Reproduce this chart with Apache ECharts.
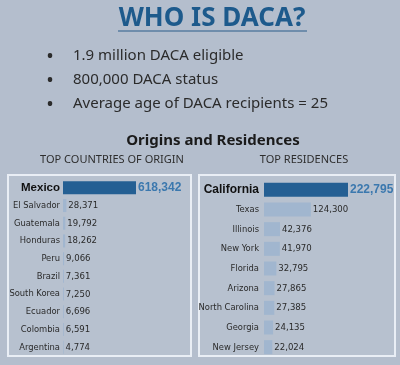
<!DOCTYPE html>
<html><head><meta charset="utf-8">
<script src="https://cdn.jsdelivr.net/npm/echarts@6/dist/echarts.min.js"></script>
<style>html,body{margin:0;padding:0;background:#b4becd;}#c{width:400px;height:365px;}</style>
</head><body><div id="c"></div>
<script>
const title = "WHO IS DACA?";
const bullets = ["1.9 million DACA eligible", "800,000 DACA status", "Average age of DACA recipients = 25"];
const subtitle = "Origins and Residences";
const leftTitle = "TOP COUNTRIES OF ORIGIN";
const rightTitle = "TOP RESIDENCES";
const countries = ["Mexico","El Salvador","Guatemala","Honduras","Peru","Brazil","South Korea","Ecuador","Colombia","Argentina"];
const countryValues = [618342,28371,19792,18262,9066,7361,7250,6696,6591,4774];
const states = ["California","Texas","Illinois","New York","Florida","Arizona","North Carolina","Georgia","New Jersey"];
const stateValues = [222795,124300,42376,41970,32795,27865,27385,24135,22024];

const DARK = '#245f93', LIGHT = '#a1b6cf', HL = '#3b78ae';
const NARROW = "'DejaVu Sans Condensed',sans-serif";
const BOLD = "'Liberation Sans',Arial,sans-serif";

function items(vals) {
  return vals.map((v, i) => ({
    value: v,
    itemStyle: {color: i === 0 ? DARK : LIGHT},
    label: i === 0
      ? {color: HL, fontWeight: 'bold', fontSize: 12, fontFamily: BOLD, distance: 2}
      : {color: '#2a2a2a', fontSize: 9.5, fontFamily: NARROW, distance: 2}
  }));
}
function catLabel(first, size, margin) {
  return {
    margin: margin,
    formatter: v => v === first ? '{b|' + v + '}' : '{n|' + v + '}',
    rich: {
      b: {fontWeight: 'bold', fontSize: size, color: '#111', fontFamily: BOLD},
      n: {fontSize: 9.3, color: '#2a2a2a', fontFamily: NARROW}
    }
  };
}

const chart = echarts.init(document.getElementById('c'), null, {renderer: 'canvas'});
const graphics = [
  {type: 'rect', shape: {x: 8, y: 175, width: 183, height: 181}, style: {fill: 'rgba(255,255,255,0.05)', stroke: '#e9eef5', lineWidth: 2}, z: 0},
  {type: 'rect', shape: {x: 199, y: 175, width: 196, height: 181}, style: {fill: 'rgba(255,255,255,0.05)', stroke: '#e9eef5', lineWidth: 2}, z: 0},
  {type: 'text', x: 212, y: 19, style: {text: title, fill: '#1d5a8c', font: "bold 26px 'Noto Sans',sans-serif", textAlign: 'center', textVerticalAlign: 'middle'}},
  {type: 'line', shape: {x1: 118, y1: 31, x2: 307, y2: 31}, style: {stroke: '#2a5d8a', lineWidth: 1}},
  {type: 'text', x: 213, y: 141, style: {text: subtitle, fill: '#1a1a1a', font: "bold 15px 'Noto Sans',sans-serif", textAlign: 'center', textVerticalAlign: 'middle'}},
  {type: 'text', x: 112, y: 160, style: {text: leftTitle, fill: '#2e2e2e', font: "11px 'Noto Sans',sans-serif", textAlign: 'center', textVerticalAlign: 'middle'}},
  {type: 'text', x: 304, y: 160, style: {text: rightTitle, fill: '#2e2e2e', font: "11px 'Noto Sans',sans-serif", textAlign: 'center', textVerticalAlign: 'middle'}}
];
const by = [56, 80, 104];
bullets.forEach((b, i) => {
  graphics.push({type: 'text', x: 50, y: by[i], style: {text: '•', fill: '#2b2b2b', font: "bold 16px 'Noto Sans',sans-serif", textAlign: 'center', textVerticalAlign: 'middle'}});
  graphics.push({type: 'text', x: 73, y: by[i], style: {text: b, fill: '#2b2b2b', font: "15px 'Noto Sans',sans-serif", textAlign: 'left', textVerticalAlign: 'middle'}});
});

chart.setOption({
  backgroundColor: '#b4becd',
  animation: false,
  graphic: graphics,
  grid: [
    {left: 63, top: 179, width: 73, height: 177},
    {left: 264, top: 180, width: 84, height: 177}
  ],
  xAxis: [
    {gridIndex: 0, type: 'value', min: 0, max: countryValues[0], show: false},
    {gridIndex: 1, type: 'value', min: 0, max: stateValues[0], show: false}
  ],
  yAxis: [
    {gridIndex: 0, type: 'category', data: countries, inverse: true, axisLine: {show: false}, axisTick: {show: false}, axisLabel: catLabel(countries[0], 11.5, 3)},
    {gridIndex: 1, type: 'category', data: states, inverse: true, axisLine: {show: false}, axisTick: {show: false}, axisLabel: catLabel(states[0], 12, 5)}
  ],
  series: [
    {type: 'bar', xAxisIndex: 0, yAxisIndex: 0, data: items(countryValues), barWidth: 13,
     label: {show: true, position: 'right', formatter: p => p.value.toLocaleString('en-US')}},
    {type: 'bar', xAxisIndex: 1, yAxisIndex: 1, data: items(stateValues), barWidth: 14,
     label: {show: true, position: 'right', formatter: p => p.value.toLocaleString('en-US')}}
  ]
});
</script></body></html>
